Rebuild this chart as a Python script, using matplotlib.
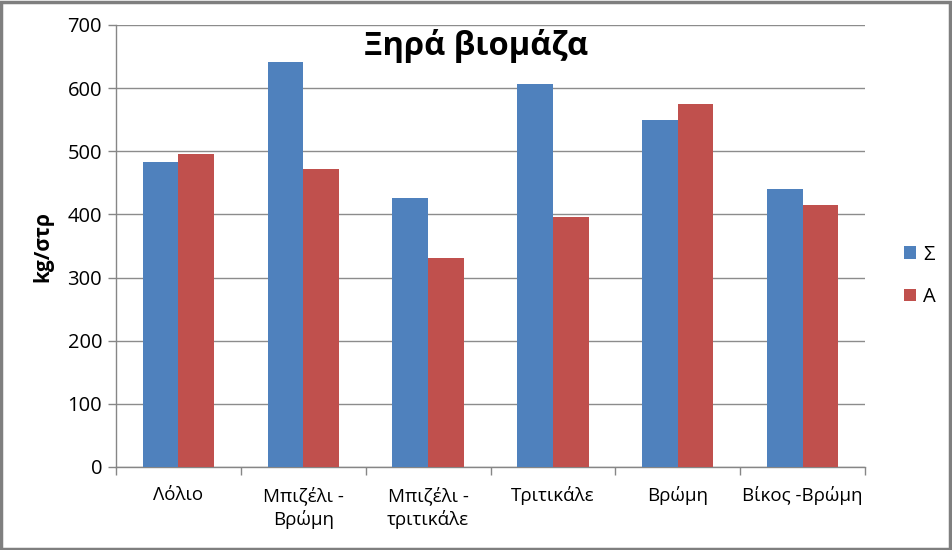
import matplotlib
matplotlib.use("Agg")
import matplotlib.pyplot as plt
import numpy as np
from matplotlib.patches import Rectangle

categories = ["Λόλιο", "Μπιζέλι -\nΒρώμη", "Μπιζέλι -\nτριτικάλε", "Τριτικάλε", "Βρώμη", "Βίκος -Βρώμη"]
sigma = [483, 641, 426, 607, 550, 440]
alpha = [496, 472, 331, 396, 575, 415]
series_names = ["Σ", "Α"]
colors = ["#4F81BD", "#C0504D"]
yticks = [0, 100, 200, 300, 400, 500, 600, 700]

plt.rcParams['font.family'] = ['Open Sans', 'DejaVu Sans']

fig = plt.figure(figsize=(9.52, 5.5), dpi=100)
ax = fig.add_axes([116/952, 1-467/550, (865-116)/952, (467-25)/550])

x = np.arange(len(categories))
w = 1/3.5
b1 = ax.bar(x - w/2, sigma, width=w, color=colors[0], label=series_names[0], zorder=3)
b2 = ax.bar(x + w/2, alpha, width=w, color=colors[1], label=series_names[1], zorder=3)

ax.set_xlim(-0.5, len(categories) - 0.5)
ax.set_ylim(0, 700)
ax.set_yticks(yticks)
ax.set_yticklabels([str(v) for v in yticks], fontsize=14.5)
ax.yaxis.grid(True, color="#8c8c8c", linewidth=1, zorder=0)
ax.set_axisbelow(True)

ax.set_xticks(x)
ax.set_xticklabels(categories, fontsize=13.5, linespacing=1.35)
ax.set_xticks(np.arange(-0.5, len(categories)), minor=True)
ax.tick_params(axis='x', which='major', length=0, pad=14)
ax.tick_params(axis='x', which='minor', length=6, color="#868686", width=1)
ax.tick_params(axis='y', length=6, color="#868686", width=1, pad=4)

for s in ["top", "right"]:
    ax.spines[s].set_visible(False)
for s in ["left", "bottom"]:
    ax.spines[s].set_color("#868686")
    ax.spines[s].set_linewidth(1)

ax.set_ylabel("kg/στρ", fontsize=15, fontweight="bold", labelpad=10)

fig.text(476/952, 1-46/550, "Ξηρά βιομάζα", ha="center", va="center",
         fontsize=23.5, fontweight="bold")

leg = fig.legend(handles=[b1, b2], labels=series_names, loc="center left",
                 bbox_to_anchor=(886/952, 1-276/550), frameon=False,
                 fontsize=14.5, handlelength=0.6, handleheight=0.6,
                 handletextpad=0.35, labelspacing=1.1)

fig.patches.append(Rectangle((0.001, 0.002), 0.997, 0.995, transform=fig.transFigure,
                             fill=False, edgecolor="#7f7f7f", linewidth=2.5))

fig.savefig("out.png", dpi=100)
